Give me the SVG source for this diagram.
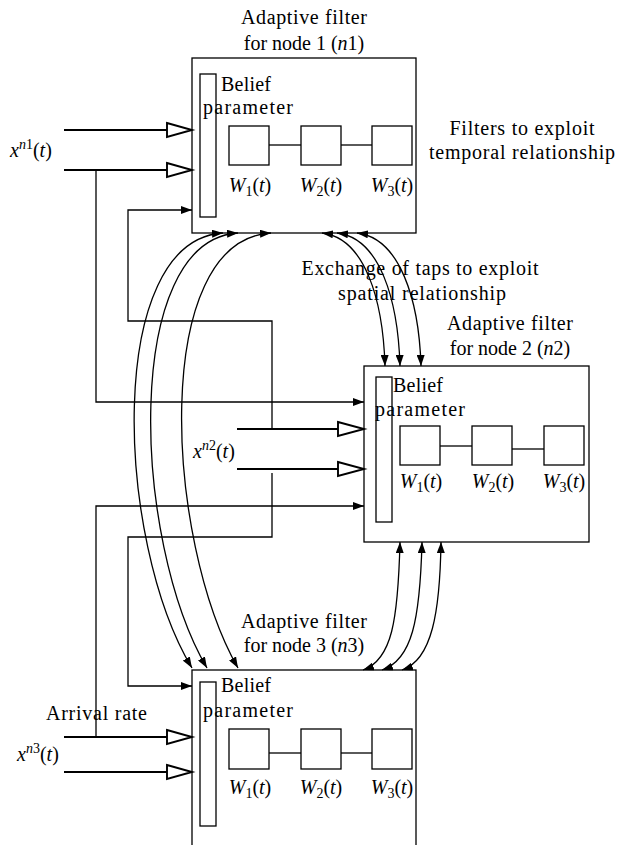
<svg xmlns="http://www.w3.org/2000/svg" width="619" height="845" viewBox="0 0 619 845">
<style>
text{font-family:"Liberation Serif","Times New Roman",serif;font-size:20px;fill:#000}
.it{font-style:italic}
.sub{font-size:14px}
.box{fill:#fff;stroke:#000;stroke-width:1.3}
.ln{fill:none;stroke:#000;stroke-width:1.3}
.in{fill:none;stroke:#000;stroke-width:1.9}
.tri{fill:#fff;stroke:#000;stroke-width:1.9}
.ar{fill:none;stroke:#000;stroke-width:1.3;marker-end:url(#ah)}
.cv{fill:none;stroke:#000;stroke-width:1.3;marker-start:url(#ah);marker-end:url(#ah)}
</style>
<defs>
<marker id="ah" viewBox="0 0 11 8" refX="11" refY="4" markerWidth="11" markerHeight="8" markerUnits="userSpaceOnUse" orient="auto-start-reverse">
<path d="M0,0 L11,4 L0,8 z" fill="#000"/>
</marker>
</defs>

<!-- free labels -->
<g id="labels">
<text x="304" y="24" text-anchor="middle" textLength="126" lengthAdjust="spacing">Adaptive filter</text>
<text x="304" y="50" text-anchor="middle">for node 1 (<tspan class="it">n</tspan>1)</text>
<text x="522" y="135" text-anchor="middle" textLength="145" lengthAdjust="spacing">Filters to exploit</text>
<text x="522" y="159" text-anchor="middle" textLength="186" lengthAdjust="spacing">temporal relationship</text>
<text x="420" y="275" text-anchor="middle" textLength="237" lengthAdjust="spacing">Exchange of taps to exploit</text>
<text x="422" y="300" text-anchor="middle" textLength="168" lengthAdjust="spacing">spatial relationship</text>
<text x="510" y="330" text-anchor="middle" textLength="126" lengthAdjust="spacing">Adaptive filter</text>
<text x="510" y="355" text-anchor="middle">for node 2 (<tspan class="it">n</tspan>2)</text>
<text x="304" y="628" text-anchor="middle" textLength="126" lengthAdjust="spacing">Adaptive filter</text>
<text x="304" y="652" text-anchor="middle">for node 3 (<tspan class="it">n</tspan>3)</text>
<text x="46" y="720" textLength="101" lengthAdjust="spacing">Arrival rate</text>
<text x="10" y="157"><tspan class="it">x</tspan><tspan class="sub" dy="-8"><tspan class="it">n</tspan>1</tspan><tspan dy="8">(<tspan class="it">t</tspan>)</tspan></text>
<text x="193" y="458"><tspan class="it">x</tspan><tspan class="sub" dy="-8"><tspan class="it">n</tspan>2</tspan><tspan dy="8">(<tspan class="it">t</tspan>)</tspan></text>
<text x="17" y="761"><tspan class="it">x</tspan><tspan class="sub" dy="-8"><tspan class="it">n</tspan>3</tspan><tspan dy="8">(<tspan class="it">t</tspan>)</tspan></text>
</g>

<!-- node 1 -->
<g id="node1">
<rect class="box" x="192" y="58" width="224" height="175"/>
<rect class="box" x="200" y="74" width="16" height="143"/>
<text x="221" y="91" textLength="50" lengthAdjust="spacing">Belief</text>
<text x="203" y="114" textLength="90" lengthAdjust="spacing">parameter</text>
<rect class="box" x="229" y="126" width="40" height="39"/>
<rect class="box" x="301" y="126" width="40" height="39"/>
<rect class="box" x="372" y="126" width="40" height="39"/>
<line class="ln" x1="269" y1="145" x2="301" y2="145"/>
<line class="ln" x1="341" y1="145" x2="372" y2="145"/>
<text x="250" y="192" text-anchor="middle"><tspan class="it">W</tspan><tspan class="sub" dy="4">1</tspan><tspan dy="-4">(<tspan class="it">t</tspan>)</tspan></text>
<text x="321" y="192" text-anchor="middle"><tspan class="it">W</tspan><tspan class="sub" dy="4">2</tspan><tspan dy="-4">(<tspan class="it">t</tspan>)</tspan></text>
<text x="392" y="192" text-anchor="middle"><tspan class="it">W</tspan><tspan class="sub" dy="4">3</tspan><tspan dy="-4">(<tspan class="it">t</tspan>)</tspan></text>
</g>

<!-- node 2 -->
<g id="node2">
<rect class="box" x="364" y="366" width="225" height="176"/>
<rect class="box" x="376" y="377" width="16" height="145"/>
<text x="393" y="392" textLength="50" lengthAdjust="spacing">Belief</text>
<text x="375" y="416" textLength="90" lengthAdjust="spacing">parameter</text>
<rect class="box" x="400" y="426" width="40" height="39"/>
<rect class="box" x="472" y="426" width="40" height="39"/>
<rect class="box" x="544" y="426" width="40" height="39"/>
<line class="ln" x1="440" y1="446" x2="472" y2="446"/>
<line class="ln" x1="512" y1="449" x2="544" y2="449"/>
<text x="421" y="488" text-anchor="middle"><tspan class="it">W</tspan><tspan class="sub" dy="4">1</tspan><tspan dy="-4">(<tspan class="it">t</tspan>)</tspan></text>
<text x="493" y="488" text-anchor="middle"><tspan class="it">W</tspan><tspan class="sub" dy="4">2</tspan><tspan dy="-4">(<tspan class="it">t</tspan>)</tspan></text>
<text x="564" y="488" text-anchor="middle"><tspan class="it">W</tspan><tspan class="sub" dy="4">3</tspan><tspan dy="-4">(<tspan class="it">t</tspan>)</tspan></text>
</g>

<!-- node 3 -->
<g id="node3">
<rect class="box" x="192" y="670" width="224" height="200"/>
<rect class="box" x="200" y="682" width="16" height="144"/>
<text x="221" y="692" textLength="50" lengthAdjust="spacing">Belief</text>
<text x="203" y="717" textLength="90" lengthAdjust="spacing">parameter</text>
<rect class="box" x="229" y="729" width="40" height="40"/>
<rect class="box" x="301" y="729" width="40" height="40"/>
<rect class="box" x="372" y="729" width="40" height="40"/>
<line class="ln" x1="269" y1="753" x2="301" y2="753"/>
<line class="ln" x1="341" y1="753" x2="372" y2="753"/>
<text x="250" y="794" text-anchor="middle"><tspan class="it">W</tspan><tspan class="sub" dy="4">1</tspan><tspan dy="-4">(<tspan class="it">t</tspan>)</tspan></text>
<text x="321" y="794" text-anchor="middle"><tspan class="it">W</tspan><tspan class="sub" dy="4">2</tspan><tspan dy="-4">(<tspan class="it">t</tspan>)</tspan></text>
<text x="392" y="794" text-anchor="middle"><tspan class="it">W</tspan><tspan class="sub" dy="4">3</tspan><tspan dy="-4">(<tspan class="it">t</tspan>)</tspan></text>
</g>

<!-- connectors -->
<g id="connectors">
<!-- inputs node 1 -->
<line class="in" x1="64" y1="130" x2="167" y2="130"/>
<polygon class="tri" points="167,123 192,130 167,137"/>
<line class="in" x1="64" y1="170" x2="167" y2="170"/>
<polygon class="tri" points="167,163 192,170 167,177"/>
<!-- inputs node 2 -->
<line class="in" x1="237" y1="429" x2="338" y2="429"/>
<polygon class="tri" points="338,422 364,429 338,436"/>
<line class="in" x1="237" y1="469" x2="338" y2="469"/>
<polygon class="tri" points="338,462 364,469 338,476"/>
<!-- inputs node 3 -->
<line class="in" x1="64" y1="737" x2="167" y2="737"/>
<polygon class="tri" points="167,730 192,737 167,744"/>
<line class="in" x1="64" y1="772" x2="167" y2="772"/>
<polygon class="tri" points="167,765 192,772 167,779"/>
<!-- cross feeds -->
<path class="ar" d="M96,170 V402 H364"/>
<path class="ar" d="M272,429 V321 H128 V210 H192"/>
<path class="ar" d="M272,473 V537 H128 V686 H192"/>
<path class="ar" d="M96,737 V506 H364"/>
<!-- node1 <-> node3 -->
<path class="cv" d="M192,668 C115,540 105,240 223,233"/>
<path class="cv" d="M207,668 C132,540 122,240 238,233"/>
<path class="cv" d="M238,668 C165,540 150,240 271,233"/>
<!-- node1 <-> node2 -->
<path class="cv" d="M385,366 C383,300 365,238 322,233"/>
<path class="cv" d="M400,366 C398,300 380,238 337,233"/>
<path class="cv" d="M421,366 C419,300 400,238 357,233"/>
<!-- node2 <-> node3 -->
<path class="cv" d="M400,542 C398,620 392,660 363,670"/>
<path class="cv" d="M422,542 C420,620 412,660 382,670"/>
<path class="cv" d="M441,542 C440,612 432,660 402,670"/>
</g>
</svg>
